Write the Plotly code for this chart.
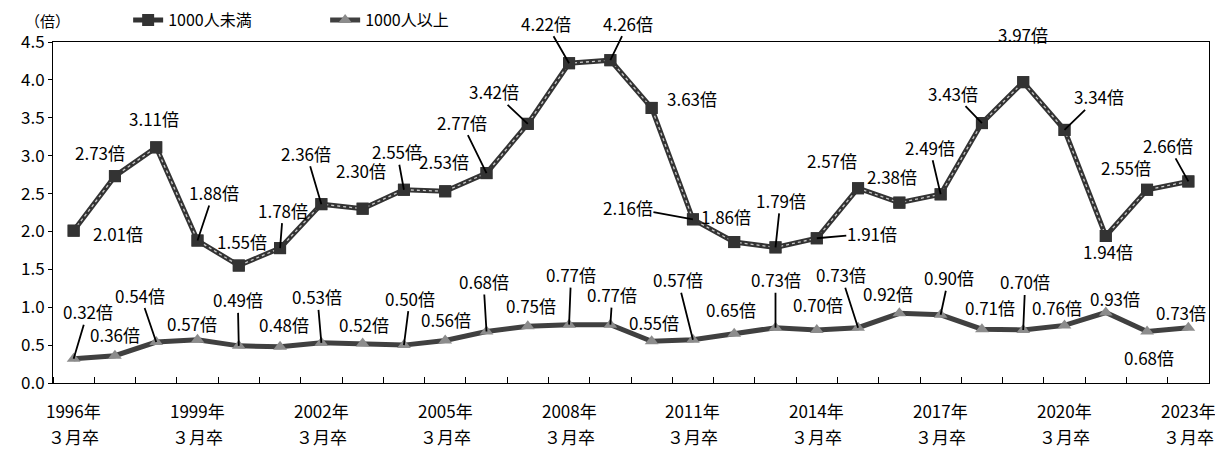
import plotly.graph_objects as go

years = [1996, 1997, 1998, 1999, 2000, 2001, 2002, 2003, 2004, 2005, 2006, 2007, 2008, 2009,
         2010, 2011, 2012, 2013, 2014, 2015, 2016, 2017, 2018, 2019, 2020, 2021, 2022, 2023]
small = [2.01, 2.73, 3.11, 1.88, 1.55, 1.78, 2.36, 2.30, 2.55, 2.53, 2.77, 3.42, 4.22, 4.26,
         3.63, 2.16, 1.86, 1.79, 1.91, 2.57, 2.38, 2.49, 3.43, 3.97, 3.34, 1.94, 2.55, 2.66]
large = [0.32, 0.36, 0.54, 0.57, 0.49, 0.48, 0.53, 0.52, 0.50, 0.56, 0.68, 0.75, 0.77, 0.77,
         0.55, 0.57, 0.65, 0.73, 0.70, 0.73, 0.92, 0.90, 0.71, 0.70, 0.76, 0.93, 0.68, 0.73]
series_names = ["1000人未満", "1000人以上"]
tick_years = [1996, 1999, 2002, 2005, 2008, 2011, 2014, 2017, 2020, 2023]
tick_line1 = [f"{y}年" for y in tick_years]
tick_line2 = ["３月卒" for y in tick_years]

# label placement (pixel offsets of label centre from point, leader line flag)
small_off = [(44, 3, 0), (-15, -24, 0), (-2, -29, 0), (16, -48, 1), (3, -24, 0), (3, -38, 1),
             (-15, -51, 1), (-2, -38, 0), (-7, -38, 1), (-1, -30, 0), (-25, -51, 1), (-34, -32, 1),
             (-23, -40, 1), (18, -37, 1), (40, -9, 0), (-65, -12, 1), (-8, -26, 0), (5, -47, 1),
             (55, -5, 1), (-26, -28, 0), (-7, -26, 0), (-11, -47, 1), (-29, -30, 1), (0, -48, 0),
             (34, -33, 1), (2, 16, 0), (-21, -22, 0), (-20, -36, 1)]
large_off = [(14, -47, 1), (0, -21, 0), (-16, -47, 1), (-6, -16, 0), (-1, -46, 1), (4, -22, 0),
             (-4, -46, 1), (1, -19, 0), (6, -47, 1), (1, -21, 0), (-3, -50, 1), (3, -21, 0),
             (2, -50, 1), (2, -30, 1), (2, -19, 0), (-15, -60, 1), (-3, -24, 0), (0, -48, 1),
             (1, -25, 0), (-17, -53, 1), (-11, -20, 0), (8, -37, 1), (8, -22, 0), (2, -48, 1),
             (-8, -18, 0), (9, -14, 0), (2, 26, 0), (-7, -15, 0)]

FONT = "Noto Sans CJK JP"
FS = 17
fig = go.Figure()

fig.add_trace(go.Scatter(x=years, y=small, name=series_names[0], mode="lines+markers",
                         line=dict(color="#333333", width=5),
                         marker=dict(symbol="square", size=12, color="#333333")))
fig.add_trace(go.Scatter(x=years, y=small, mode="lines", showlegend=False, hoverinfo="skip",
                         line=dict(color="#c8c8c8", width=1.3, dash="dot")))
fig.add_trace(go.Scatter(x=years, y=small, mode="markers", showlegend=False, hoverinfo="skip",
                         marker=dict(symbol="square", size=12, color="#333333")))
fig.add_trace(go.Scatter(x=years, y=large, name=series_names[1], mode="lines+markers",
                         line=dict(color="#404040", width=5),
                         marker=dict(symbol="triangle-up", size=12, color="#8c8c8c")))

annotations = []
for vals, offs in ((small, small_off), (large, large_off)):
    for xv, yv, (dx, dy, ln) in zip(years, vals, offs):
        annotations.append(dict(
            x=xv, y=yv, xref="x", yref="y", text=f"{yv:.2f}倍",
            showarrow=True, ax=dx, ay=dy, arrowhead=0, arrowwidth=1.8,
            arrowcolor="black" if ln else "rgba(0,0,0,0)",
            font=dict(family=FONT, size=FS, color="black"), borderpad=0))

for xv, t1, t2 in zip(tick_years, tick_line1, tick_line2):
    annotations.append(dict(x=xv, y=0, xref="x", yref="paper", text=t1, showarrow=False,
                            xanchor="center", yanchor="middle", yshift=-27,
                            font=dict(family=FONT, size=FS, color="black")))
    annotations.append(dict(x=xv, y=0, xref="x", yref="paper", text=t2, showarrow=False,
                            xanchor="center", yanchor="middle", yshift=-53,
                            font=dict(family=FONT, size=FS, color="black")))

annotations.append(dict(x=-0.005, y=1.062, xref="paper", yref="paper", text="（倍）",
                        xanchor="center", yanchor="middle", showarrow=False, borderpad=0,
                        font=dict(family=FONT, size=15, color="black")))

fig.update_layout(
    width=1215, height=442,
    margin=dict(l=45, r=14, t=34, b=67, autoexpand=False),
    paper_bgcolor="white", plot_bgcolor="white",
    font=dict(family=FONT, size=FS, color="black"),
    showlegend=True,
    legend=dict(orientation="h", x=0.065, y=1.064, xanchor="left", yanchor="middle",
                font=dict(family=FONT, size=16, color="black"), entrywidth=152,
                bgcolor="rgba(0,0,0,0)"),
    annotations=annotations,
    xaxis=dict(range=[1995.5, 2023.5], tickmode="array", tickvals=tick_years,
               showticklabels=False,
               ticks="", showgrid=False, zeroline=False, showline=True, linecolor="black",
               linewidth=1, mirror=True,
               minor=dict(tick0=1995.5, dtick=1, ticks="inside", ticklen=6, tickcolor="black",
                          showgrid=False)),
    yaxis=dict(range=[0, 4.5], dtick=0.5, tickformat=".1f", ticks="outside", ticklen=4,
               tickcolor="black", showgrid=False, zeroline=False, showline=True,
               linecolor="black", linewidth=1, mirror=True,
               tickfont=dict(family=FONT, size=FS, color="black")),
)

fig.write_html("out.html")
